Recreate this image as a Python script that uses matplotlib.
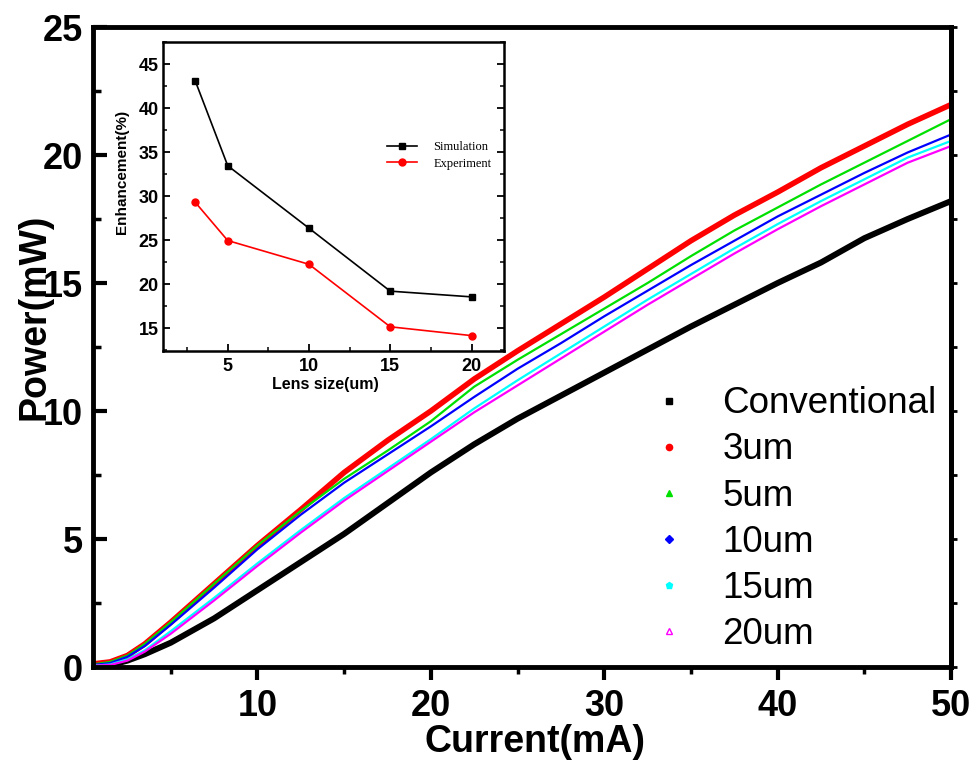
import matplotlib
matplotlib.use("Agg")
import matplotlib.pyplot as plt
from matplotlib.lines import Line2D
from matplotlib.ticker import MultipleLocator

# L-I curves: drive current (mA) vs. output power (mW)
current = [0.5, 1.5, 2.5, 3.5, 5, 7.5, 10, 12.5, 15, 17.5, 20, 22.5, 25,
           27.5, 30, 32.5, 35, 37.5, 40, 42.5, 45, 47.5, 50]
p_conv = [0.05, 0.07, 0.25, 0.5, 0.95, 1.9, 3.0, 4.1, 5.2, 6.4, 7.6, 8.7, 9.7,
          10.6, 11.5, 12.4, 13.3, 14.15, 15.0, 15.8, 16.75, 17.5, 18.2]
p_3um = [0.12, 0.2, 0.45, 0.9, 1.75, 3.25, 4.75, 6.15, 7.6, 8.85, 10.0, 11.25, 12.35,
         13.4, 14.45, 15.55, 16.65, 17.65, 18.55, 19.5, 20.35, 21.2, 21.97]
p_5um = [0.1, 0.2, 0.45, 0.9, 1.75, 3.25, 4.75, 6.1, 7.35, 8.45, 9.6, 10.95, 12.0,
         13.0, 14.0, 15.0, 16.05, 17.05, 17.95, 18.85, 19.7, 20.55, 21.4]
p_10um = [0.08, 0.15, 0.4, 0.82, 1.65, 3.1, 4.6, 5.95, 7.2, 8.3, 9.4, 10.55, 11.65,
          12.65, 13.7, 14.7, 15.7, 16.65, 17.6, 18.45, 19.3, 20.1, 20.8]
p_15um = [0.05, 0.1, 0.3, 0.65, 1.4, 2.7, 4.05, 5.35, 6.6, 7.75, 8.9, 10.1, 11.2,
          12.25, 13.3, 14.35, 15.35, 16.35, 17.3, 18.2, 19.05, 19.9, 20.55]
p_20um = [0.05, 0.08, 0.25, 0.6, 1.3, 2.6, 3.95, 5.25, 6.5, 7.65, 8.8, 9.95, 11.0,
          12.05, 13.1, 14.15, 15.15, 16.15, 17.1, 18.0, 18.85, 19.7, 20.35]
labels = ["Conventional", "3um", "5um", "10um", "15um", "20um"]

# enhancement vs. lens size
lens_size = [3, 5, 10, 15, 20]
enh_sim = [43.1, 33.45, 26.35, 19.2, 18.55]
enh_exp = [29.3, 24.95, 22.25, 15.15, 14.15]

sans = "Liberation Sans"

fig = plt.figure(figsize=(9.76, 7.74), dpi=100)
ax = fig.add_axes([0.095, 0.1382, 0.8794, 0.8269])

series = [p_conv, p_3um, p_5um, p_10um, p_15um, p_20um]
colors = ["black", "#ff0000", "#00e000", "#0000ff", "#00ffff", "#ff00ff"]
widths = [4.3, 4.0, 1.6, 1.6, 1.6, 1.6]
markers = ["s", "o", "^", "D", "p", "^"]
for y, c, lw in zip(series, colors, widths):
    ax.plot(current, y, color=c, lw=lw, solid_capstyle="round", solid_joinstyle="round")

ax.set_xlim(0.5, 50)
ax.set_ylim(0, 25)
ax.xaxis.set_major_locator(MultipleLocator(10))
ax.xaxis.set_minor_locator(MultipleLocator(5))
ax.yaxis.set_major_locator(MultipleLocator(5))
ax.yaxis.set_minor_locator(MultipleLocator(2.5))
for s in ax.spines.values():
    s.set_linewidth(3.5)
ax.tick_params(axis="x", which="major", direction="out", length=9, width=3, pad=7)
ax.tick_params(axis="x", which="minor", direction="out", length=5, width=2.5)
ax.tick_params(axis="y", which="major", direction="in", length=10, width=3, pad=7)
ax.tick_params(axis="y", which="minor", direction="in", length=6, width=2.5)
for t in ax.get_xticklabels() + ax.get_yticklabels():
    t.set_fontfamily(sans)
    t.set_fontweight("bold")
    t.set_fontsize(26)

# short outward ticks on the right edge
sec = ax.secondary_yaxis("right")
sec.yaxis.set_major_locator(MultipleLocator(2.5))
sec.tick_params(direction="out", length=4, width=2, labelright=False)
sec.spines["right"].set_linewidth(3.5)

ax.set_xlabel("Current(mA)", fontsize=27, fontweight="bold", family=sans)
ax.xaxis.set_label_coords(0.515, -0.089)
ax.set_ylabel("Power(mW)", fontsize=27, fontweight="bold", family=sans)
ax.yaxis.set_label_coords(-0.047, 0.547)

handles = [Line2D([], [], ls="none", marker=m, color=c, markersize=4.5,
                  markerfacecolor=(c if i < 5 else "white"), markeredgewidth=1)
           for i, (m, c) in enumerate(zip(markers, colors))]
ax.legend(handles, labels, loc="upper left", bbox_to_anchor=(0.6475, 0.5245),
          bbox_transform=fig.transFigure, frameon=False, borderpad=0,
          handlelength=1.0, handletextpad=0.95, labelspacing=0.3,
          prop={"family": sans, "size": 26.5})

# inset: enhancement vs. lens size
ax2 = fig.add_axes([0.1667, 0.5465, 0.3497, 0.3992])
ax2.plot(lens_size, enh_sim, color="black", lw=1.2, marker="s", markersize=5,
         label="Simulation")
ax2.plot(lens_size, enh_exp, color="#ff0000", lw=1.2, marker="o", markersize=5,
         label="Experiment")
ax2.set_xlim(1, 22)
ax2.set_ylim(12.4, 47.5)
ax2.xaxis.set_major_locator(MultipleLocator(5))
ax2.xaxis.set_minor_locator(MultipleLocator(2.5))
ax2.yaxis.set_major_locator(MultipleLocator(5))
ax2.yaxis.set_minor_locator(MultipleLocator(2.5))
for s in ax2.spines.values():
    s.set_linewidth(1.8)
ax2.tick_params(which="major", direction="in", length=5, width=1.3, right=True)
ax2.tick_params(which="minor", direction="in", length=3, width=1.1, right=True)
ax2.tick_params(axis="x", pad=5)
ax2.tick_params(axis="y", pad=3)
for t in ax2.get_xticklabels() + ax2.get_yticklabels():
    t.set_fontfamily(sans)
    t.set_fontweight("bold")
    t.set_fontsize(13)
ax2.set_xlabel("Lens size(um)", fontsize=11.5, fontweight="bold", family=sans)
ax2.xaxis.set_label_coords(0.4755, -0.085)
ax2.set_ylabel("Enhancement(%)", fontsize=11, fontweight="bold", family=sans)
ax2.yaxis.set_label_coords(-0.10, 0.579)
ax2.legend(loc="upper left", bbox_to_anchor=(0.639, 0.699), frameon=False,
           borderpad=0, handlelength=2.4, handletextpad=1.3, labelspacing=0.36,
           prop={"family": "Liberation Serif", "size": 9})

fig.savefig("out.png", dpi=100)
